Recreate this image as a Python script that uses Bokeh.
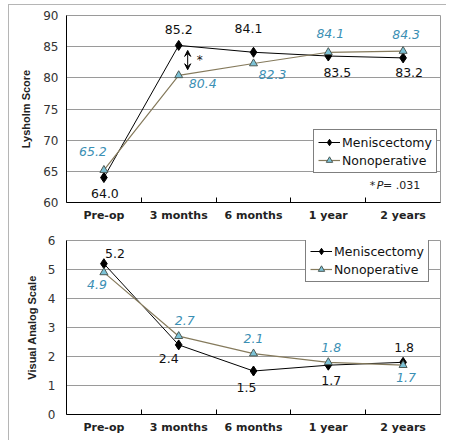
from bokeh.plotting import figure
from bokeh.layouts import column
from bokeh.models import (Range1d, FixedTicker, ColumnDataSource, Legend, LegendItem,
                          Arrow, VeeHead, Label)
from bokeh.core.properties import value
from bokeh.embed import file_html
from bokeh.resources import INLINE

# ---- data ----
categories = ["Pre-op", "3 months", "6 months", "1 year", "2 years"]
series_names = ["Meniscectomy", "Nonoperative"]
lysholm_men = [64.0, 85.2, 84.1, 83.5, 83.2]
lysholm_non = [65.2, 80.4, 82.3, 84.1, 84.3]
vas_men = [5.2, 2.4, 1.5, 1.7, 1.8]
vas_non = [4.9, 2.7, 2.1, 1.8, 1.7]
lysholm_ticks = [60, 65, 70, 75, 80, 85, 90]
vas_ticks = [0, 1, 2, 3, 4, 5, 6]
p_value_text = "= .031"

# ---- styles ----
FONT = "DejaVu Sans"
AXFONT = "Liberation Sans"
BLACK = "#000000"
OLIVE = "#857a5c"
TEAL_FILL = "#7cc2d6"
TEAL_TXT = "#3b8fb4"
GRID = "#9a9a9a"

# label offsets (pixels, screen direction)
lys_men_off = [(1, 16), (0, -16), (-5, -24), (9, 16), (6, 15)]
lys_non_off = [(-11, -19), (24, 8), (19, 11), (2, -19), (3, -17)]
vas_men_off = [(11, -10), (-10, 14), (-7, 16), (3, 15), (1, -15)]
vas_non_off = [(-7, 12), (6, -16), (0, -15), (3, -15), (3, 12)]

xs = list(range(len(categories)))


def make_fig(height, frame_top, frame_bottom_border, right_border, yr, yticks, ylabel,
             label_standoff, axis_label_standoff):
    p = figure(width=437, height=height, output_backend="svg", toolbar_location=None,
               x_range=Range1d(-0.5, len(categories) - 0.5), y_range=Range1d(*yr),
               min_border_left=57, min_border_right=right_border,
               min_border_top=frame_top, min_border_bottom=frame_bottom_border)
    p.background_fill_color = "white"
    p.border_fill_color = "white"
    p.outline_line_color = GRID
    p.outline_line_width = 1
    # x axis
    p.xaxis.ticker = FixedTicker(ticks=xs, minor_ticks=[i + 0.5 for i in xs[:-1]])
    p.xaxis.major_label_overrides = {i: c for i, c in enumerate(categories)}
    p.xaxis.major_tick_in = 0
    p.xaxis.major_tick_out = 0
    p.xaxis.minor_tick_in = 5
    p.xaxis.minor_tick_out = 0
    p.xaxis.minor_tick_line_color = BLACK
    p.xaxis.axis_line_color = BLACK
    p.xaxis.major_label_text_font = FONT
    p.xaxis.major_label_text_font_style = "bold"
    p.xaxis.major_label_text_font_size = "11px"
    p.xaxis.major_label_text_color = "#222222"
    p.xaxis.major_label_standoff = 6
    # y axis
    p.yaxis.ticker = FixedTicker(ticks=yticks)
    p.yaxis.major_tick_in = 0
    p.yaxis.major_tick_out = 0
    p.yaxis.minor_tick_line_color = None
    p.yaxis.axis_line_color = BLACK
    p.yaxis.major_label_text_font = FONT
    p.yaxis.major_label_text_font_size = "12px"
    p.yaxis.major_label_text_color = "#333333"
    p.yaxis.major_label_standoff = label_standoff
    p.yaxis.axis_label = ylabel
    p.yaxis.axis_label_text_font = AXFONT
    p.yaxis.axis_label_text_font_style = "bold"
    p.yaxis.axis_label_text_font_size = "11px"
    p.yaxis.axis_label_text_color = "#222222"
    p.yaxis.axis_label_standoff = axis_label_standoff
    p.xgrid.grid_line_color = None
    p.ygrid.grid_line_color = GRID
    p.ygrid.grid_line_width = 1
    return p


def add_series(p, men, non, men_off, non_off, legend_loc):
    l1 = p.line(xs, men, line_color=BLACK, line_width=1)
    s1 = p.scatter(xs, men, marker="diamond", size=10, fill_color=BLACK, line_color=BLACK)
    l2 = p.line(xs, non, line_color=OLIVE, line_width=1.2)
    s2 = p.scatter(xs, non, marker="triangle", size=8, fill_color=TEAL_FILL,
                   line_color="#4d5a55", line_width=1)
    src_m = ColumnDataSource(dict(x=xs, y=men, t=[f"{v:.1f}" for v in men],
                                  dx=[o[0] for o in men_off], dy=[o[1] for o in men_off]))
    src_n = ColumnDataSource(dict(x=xs, y=non, t=[f"{v:.1f}" for v in non],
                                  dx=[o[0] for o in non_off], dy=[o[1] for o in non_off]))
    p.text(x="x", y="y", text="t", x_offset="dx", y_offset="dy", source=src_m,
           text_align="center", text_baseline="middle", text_font=value(FONT),
           text_font_size="12.5px", text_color="#111111")
    p.text(x="x", y="y", text="t", x_offset="dx", y_offset="dy", source=src_n,
           text_align="center", text_baseline="middle", text_font=value(FONT),
           text_font_size="12.5px", text_font_style="italic", text_color=TEAL_TXT)
    legend = Legend(items=[LegendItem(label=series_names[0], renderers=[l1, s1]),
                           LegendItem(label=series_names[1], renderers=[l2, s2])],
                    location=legend_loc)
    legend.label_text_font = FONT
    legend.label_text_font_size = "12.5px"
    legend.label_text_color = "#111111"
    legend.border_line_color = BLACK
    legend.border_line_width = 1
    legend.background_fill_color = "white"
    legend.background_fill_alpha = 1
    legend.padding = 4
    legend.margin = 0
    legend.spacing = 2
    legend.glyph_width = 22
    legend.glyph_height = 16
    legend.label_height = 16
    legend.label_standoff = 2
    p.add_layout(legend, "center")


# ---- top chart: Lysholm ----
p1 = make_fig(227, 10, 30, 3, (60, 90), lysholm_ticks, "Lysholm Score", 8, 8)
add_series(p1, lysholm_men, lysholm_non, lys_men_off, lys_non_off, (247, 29))

# significance arrow at 3 months
ax = 1 + 0.12
p1.add_layout(Arrow(x_start=ax, y_start=lysholm_men[1] - 0.8, x_end=ax,
                    y_end=lysholm_non[1] + 0.9,
                    start=VeeHead(size=6, line_color=BLACK, line_width=1),
                    end=VeeHead(size=6, line_color=BLACK, line_width=1),
                    line_color=BLACK, line_width=1))
p1.add_layout(Label(x=1 + 0.28, y=(lysholm_men[1] + lysholm_non[1]) / 2, text="*",
                    text_font=FONT, text_font_size="12px", text_align="center",
                    text_baseline="middle", text_color="#111111"))
# *P= .031
p1.add_layout(Label(x=4.23, y=62.7, text=p_value_text, text_font=FONT, text_font_size="11px",
                    text_align="right", text_baseline="middle", text_color="#222222"))
p1.add_layout(Label(x=4.23, y=62.7, x_offset=-37, text="P", text_font=FONT,
                    text_font_size="11px", text_font_style="italic",
                    text_align="right", text_baseline="middle", text_color="#222222"))
p1.add_layout(Label(x=4.23, y=62.7, x_offset=-45, text="*", text_font=FONT,
                    text_font_size="11px", text_align="right", text_baseline="middle",
                    text_color="#222222"))

# ---- bottom chart: VAS ----
p2 = make_fig(208, 8, 26, 6, (0, 6), vas_ticks, "Visual Analog Scale", 11, 7)
add_series(p2, vas_men, vas_non, vas_men_off, vas_non_off, (239, 132))

layout = column(p1, p2, spacing=0,
                styles={"margin-left": "8px", "margin-top": "4px",
                        "border-left": "1px solid #b5b5b5", "border-top": "1px solid #b5b5b5"})

html = file_html(layout, INLINE)
open("out.html", "w").write(html)
